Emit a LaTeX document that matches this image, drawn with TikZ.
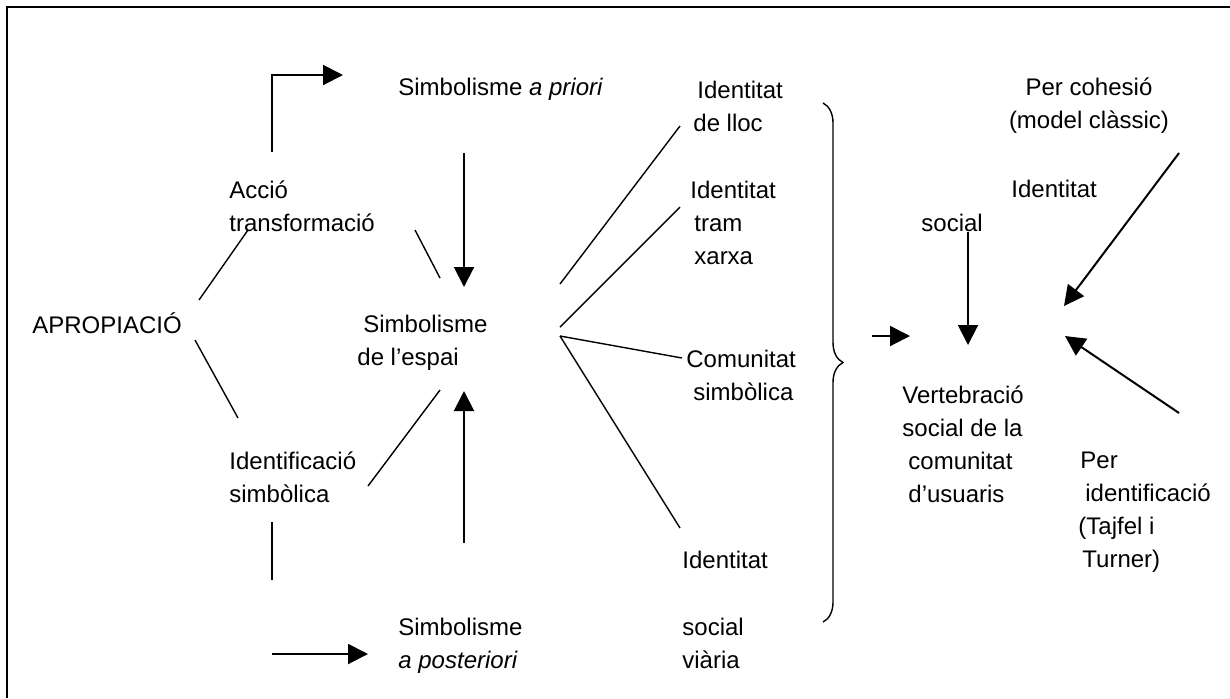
\documentclass[tikz,border=0pt]{standalone}
\usepackage{fontspec}
\setmainfont{Liberation Sans}
\usetikzlibrary{arrows.meta,decorations.pathreplacing}

\begin{document}
\begin{tikzpicture}[
        x=0.5pt, y=-0.5pt,
        txt/.style={anchor=base west, inner sep=0pt, align=left, font=\fontsize{12pt}{16.5pt}\selectfont},
        link/.style={line width=0.7pt},
        flow/.style={line width=1pt, -{Triangle[length=10pt,width=10pt]}},
        frame/.style={line width=1.2pt}
    ]
    \useasboundingbox (0,0) rectangle (1230,698);

    % ---------- marc ----------
    \draw[frame] (7,698) -- (7,7) -- (1230,7);

    % ---------- textos (base = darrera línia) ----------
    \node[txt] (apro) at (32,333) {APROPIACIÓ};
    \node[txt] (accio) at (229,231) {Acció\\transformació};
    \node[txt] (ident) at (229,502) {Identificació\\simbòlica};
    \node[txt] (priori) at (398,95) {Simbolisme \textit{a priori}};
    \node[txt] (espai) at (363,365) {Simbolisme\\\hspace*{-3pt}de l’espai};
    \node[txt] (posteriori) at (398,668) {Simbolisme\\\textit{a posteriori}};
    \node[txt] (lloc) at (697,131) {Identitat\\\hspace*{-2pt}de lloc};
    \node[txt] (tram) at (690,264) {Identitat\\\hspace*{2pt}tram\\\hspace*{2pt}xarxa};
    \node[txt] (comunitat) at (686,400) {Comunitat\\\hspace*{3.5pt}simbòlica};
    \node[txt] (viariaA) at (682,568) {Identitat};
    \node[txt] (viariaB) at (682,668) {social\\viària};
    \node[txt, anchor=base, align=center] (cohesio) at (1089,128) {Per cohesió\\(model clàssic)};
    \node[txt] (socialA) at (1011,197) {Identitat};
    \node[txt] (socialB) at (921,231) {social};
    \node[txt] (vert) at (902,502) {Vertebració\\social de la\\\hspace*{3pt}comunitat\\\hspace*{3pt}d’usuaris};
    \node[txt] (perid) at (1080,567) {Per\\\hspace*{2.5pt}identificació\\\hspace*{-1pt}(Tajfel i\\\hspace*{1pt}Turner)};

    % ---------- extrems ----------
    \coordinate (a1) at (272,152);  \coordinate (a2) at (343,75);
    \coordinate (b1) at (199,300);  \coordinate (b2) at (248,230);
    \coordinate (c1) at (195,340);  \coordinate (c2) at (238,418);
    \coordinate (d1) at (415,230);  \coordinate (d2) at (440,278);
    \coordinate (e1) at (368,486);  \coordinate (e2) at (440,390);
    \coordinate (f1) at (464,153);  \coordinate (f2) at (464,287);
    \coordinate (g1) at (464,543);  \coordinate (g2) at (464,391);
    \coordinate (h1) at (272,522);  \coordinate (h2) at (272,580);
    \coordinate (k1) at (272,654);  \coordinate (k2) at (368,654);
    \coordinate (m0) at (560,336);
    \coordinate (m1) at (560,284);  \coordinate (m2) at (680,126);
    \coordinate (n1) at (560,327);  \coordinate (n2) at (680,207);
    \coordinate (p2) at (682,358);
    \coordinate (q2) at (680,528);
    \coordinate (r1) at (823,103);  \coordinate (r2) at (823,622);
    \coordinate (s1) at (872,336);  \coordinate (s2) at (910,336);
    \coordinate (t1) at (968,232);  \coordinate (t2) at (968,345);
    \coordinate (u1) at (1179,153); \coordinate (u2) at (1064,306);
    \coordinate (v1) at (1179,413); \coordinate (v2) at (1065,336);

    % ---------- connexions ----------
    \draw[flow] (a1) |- (a2);
    \draw[link] (b1) -- (b2);
    \draw[link] (c1) -- (c2);
    \draw[link] (d1) -- (d2);
    \draw[link] (e1) -- (e2);
    \draw[flow] (f1) -- (f2);
    \draw[flow] (g1) -- (g2);
    \draw[link] (h1) -- (h2);
    \draw[flow] (k1) -- (k2);
    \draw[link] (m1) -- (m2);
    \draw[link] (n1) -- (n2);
    \draw[link] (m0) -- (p2);
    \draw[link] (m0) -- (q2);

    % ---------- clau i dreta ----------
    \draw[link, decorate, decoration={brace, amplitude=10pt}] (r1) -- (r2);
    \draw[flow] (s1) -- (s2);
    \draw[flow] (t1) -- (t2);
    \draw[flow] (u1) -- (u2);
    \draw[flow] (v1) -- (v2);

\end{tikzpicture}
\end{document}
